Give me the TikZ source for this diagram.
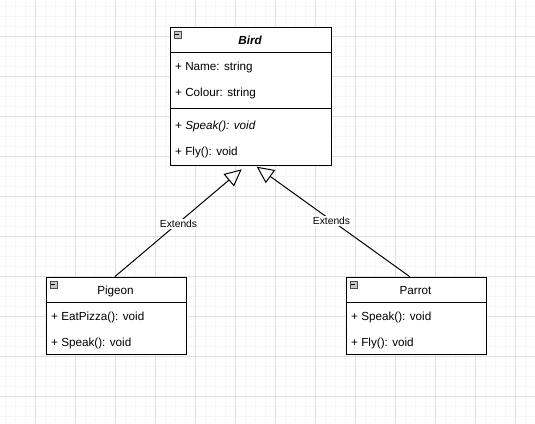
\documentclass[tikz,border=0pt]{standalone}
\usepackage{fontspec}
\setmainfont{Liberation Sans}
\usetikzlibrary{arrows.meta}
\definecolor{gridmajor}{HTML}{E0E0E0}
\definecolor{gridminor}{HTML}{F6F6F6}
\definecolor{icongray}{HTML}{C8C8C8}
\begin{document}
\begin{tikzpicture}[x=1pt,y=-1pt,
  classbox/.style={draw=black,line width=1pt,fill=white,inner sep=0pt,minimum width=#1,anchor=north west},
  member/.style={anchor=west,inner sep=0pt,font=\fontsize{11.7}{13}\selectfont},
  title/.style={anchor=center,inner sep=0pt,font=\fontsize{11.7}{13}\selectfont},
  icon/.style={draw=black!70,fill=icongray,line width=0.6pt,minimum size=6.5pt,inner sep=0pt,anchor=north west},
  lbl/.style={fill=white,inner sep=1pt,font=\fontsize{10.3}{12}\selectfont},
  ext/.style={draw=black,line width=1pt,-{Triangle[open,length=17pt,width=16pt,line width=1pt]}}
]
\useasboundingbox (0,0) rectangle (535,423);
\fill[white] (0,0) rectangle (535,423);
% grid
\foreach \i in {5.5,15.5,...,535} {\draw[gridminor,line width=0.8pt] (\i,0) -- (\i,423);}
\foreach \i in {6,16,...,423} {\draw[gridminor,line width=0.8pt] (0,\i) -- (535,\i);}
\foreach \i in {35.5,75.5,...,535} {\draw[gridmajor,line width=0.8pt] (\i,0) -- (\i,423);}
\foreach \i in {36,76,...,423} {\draw[gridmajor,line width=0.8pt] (0,\i) -- (535,\i);}

% Bird
\node[classbox=161pt,minimum height=138pt] (bird) at (169.5,26.5) {};
\draw[line width=1pt] (169.5,52.5) -- (330.5,52.5);
\draw[line width=1pt] (169.5,108.5) -- (330.5,108.5);
\node[icon] (birdicon) at (174,31) {};
\draw[line width=0.8pt] (175.2,34.25) -- (179.3,34.25);
\node[title,font=\fontsize{11.7}{13}\selectfont\bfseries\itshape] (birdtitle) at (250,40.5) {Bird};
\node[member] (bname) at (175,67) {+ Name: string};
\node[member] (bcol) at (175,93) {+ Colour: string};
\node[member] (bspeak) at (175,126) {+ \textit{Speak(): void}};
\node[member] (bfly) at (175,152.5) {+ Fly(): void};

% Pigeon
\node[classbox=140pt,minimum height=77pt] (pigeon) at (45.5,276.5) {};
\draw[line width=1pt] (45.5,302.5) -- (185.5,302.5);
\node[icon] (pigicon) at (50,281) {};
\draw[line width=0.8pt] (51.2,284.25) -- (55.3,284.25);
\node[title] (pigtitle) at (115.5,291) {Pigeon};
\node[member] (peat) at (51,317) {+ EatPizza(): void};
\node[member] (pspeak) at (51,343) {+ Speak(): void};

% Parrot
\node[classbox=140pt,minimum height=77pt] (parrot) at (345.5,276.5) {};
\draw[line width=1pt] (345.5,302.5) -- (485.5,302.5);
\node[icon] (paricon) at (350,281) {};
\draw[line width=0.8pt] (351.2,284.25) -- (355.3,284.25);
\node[title] (partitle) at (415.5,291) {Parrot};
\node[member] (paspeak) at (351,317) {+ Speak(): void};
\node[member] (pafly) at (351,343) {+ Fly(): void};

% connectors
\coordinate (ps) at (115,276.5);
\coordinate (pt) at (241.7,169.3);
\coordinate (rs) at (409.5,276.5);
\coordinate (rt) at (256.7,166.7);
\draw[ext] (ps) -- (pt);
\draw[ext] (rs) -- (rt);
\node[lbl] (l1) at (178.5,224) {Extends};
\node[lbl] (l2) at (331.5,221) {Extends};
\end{tikzpicture}
\end{document}
